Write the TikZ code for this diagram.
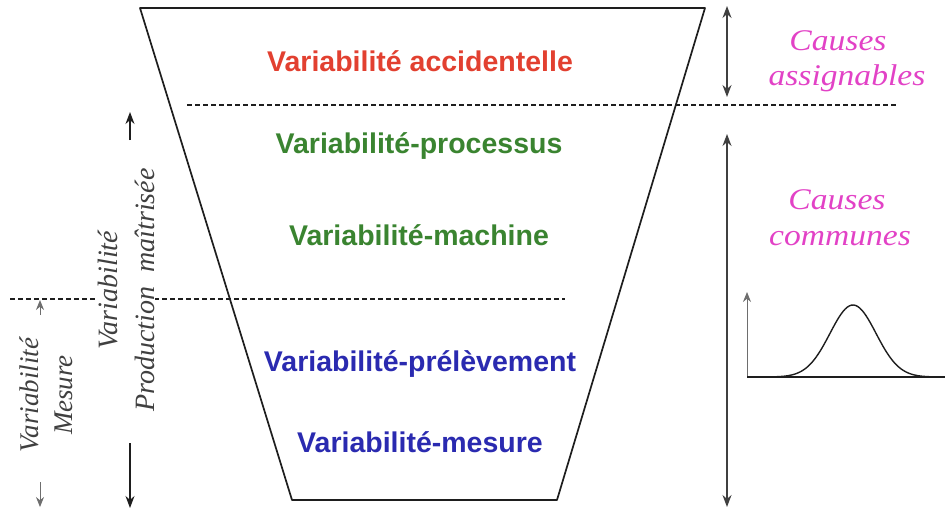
\documentclass[tikz,border=0pt]{standalone}
\usepackage{fontspec}
\setmainfont{Liberation Serif}
\setsansfont{Liberation Sans}
\usetikzlibrary{arrows.meta}
\definecolor{accred}{RGB}{226,64,48}
\definecolor{procgreen}{RGB}{58,132,48}
\definecolor{measblue}{RGB}{42,42,176}
\definecolor{causepink}{RGB}{226,66,198}
\definecolor{edgegrey}{RGB}{30,30,30}
\definecolor{softgrey}{RGB}{110,110,110}

\begin{document}
\begin{tikzpicture}[x=1pt,y=-1pt,
  >={Stealth[length=12pt,width=9pt]},
  level/.style={font=\sffamily\bfseries\fontsize{28.5}{32}\selectfont, inner sep=0pt, anchor=base},
  cause/.style={font=\itshape\fontsize{30}{34}\selectfont, text=causepink, inner sep=0pt, anchor=base, xscale=1.12},
  sidelabel/.style={font=\itshape\fontsize{28}{37}\selectfont, text=edgegrey!85!white, align=center,
    rotate=90, inner sep=1pt, fill=white},
  sepline/.style={draw=edgegrey, line width=1.1pt, dash pattern=on 5pt off 3pt},
  small tip/.style={-{Stealth[length=10pt,width=8pt]}},
  span/.style={<->, line width=1.3pt, draw=edgegrey!85!white},
]
\useasboundingbox (0,0) rectangle (945,509);

% funnel outline
\coordinate (tl) at (140,8);
\coordinate (tr) at (705,8);
\coordinate (br) at (557,500);
\coordinate (bl) at (292,500);
\draw[edgegrey, line width=1.7pt, line join=round] (tl) -- (tr) -- (br) -- (bl) -- cycle;

% separators
\coordinate (s1a) at (187,105);
\coordinate (s1b) at (897,105);
\coordinate (s2a) at (10,299);
\coordinate (s2b) at (565,299);
\draw[sepline] (s1a) -- (s1b);
\draw[sepline] (s2a) -- (s2b);

% levels of variability
\node[level, text=accred]     (acc)  at (420,71)  {Variabilité accidentelle};
\node[level, text=procgreen]  (proc) at (419,153) {Variabilité-processus};
\node[level, text=procgreen]  (mach) at (419,245) {Variabilité-machine};
\node[level, text=measblue]   (prel) at (420,371) {Variabilité-prélèvement};
\node[level, text=measblue]   (mes)  at (420,452) {Variabilité-mesure};

% left-hand labels with their arrows
\node[sidelabel] (prod) at (126,290) {Variabilité\\Production\ \ maîtrisée};
\coordinate (pa) at (130,140);
\coordinate (ptop) at (130,112);
\coordinate (pb) at (130,443);
\coordinate (pbot) at (130,508);
\draw[edgegrey, line width=1.3pt, ->] (pa) -- (ptop);
\draw[edgegrey, line width=1.3pt, ->] (pb) -- (pbot);

\node[sidelabel, font=\itshape\fontsize{27}{34}\selectfont] (mesl) at (46,395) {Variabilité\\Mesure};
\coordinate (ma) at (40,315);
\coordinate (mtop) at (40,300);
\coordinate (mb) at (40,482);
\coordinate (mbot) at (40,507);
\draw[softgrey, line width=1pt, small tip] (ma) -- (mtop);
\draw[softgrey, line width=1pt, small tip] (mb) -- (mbot);

% right-hand spans
\coordinate (r1a) at (727,6);
\coordinate (r1b) at (727,97);
\coordinate (r2a) at (727,134);
\coordinate (r2b) at (727,507);
\draw[span] (r1a) -- (r1b);
\draw[span] (r2a) -- (r2b);

\node[cause] (ca1) at (838,50) {Causes};
\node[cause] (ca2) at (847,85) {assignables};
\node[cause] (cc1) at (837,209) {Causes};
\node[cause] (cc2) at (840,245) {communes};

% normal distribution sketch
\coordinate (o) at (747,377);
\coordinate (ytop) at (747,292);
\coordinate (xend) at (945,377);
\draw[softgrey, line width=1pt, small tip] (o) -- (ytop);
\draw[edgegrey, line width=1.7pt] (o) -- (xend);
\draw[edgegrey, line width=1.4pt, smooth, samples=80, domain=770:935]
  plot (\x, {377-72*exp(-((\x-853)/23)^2/2)});
\end{tikzpicture}
\end{document}
